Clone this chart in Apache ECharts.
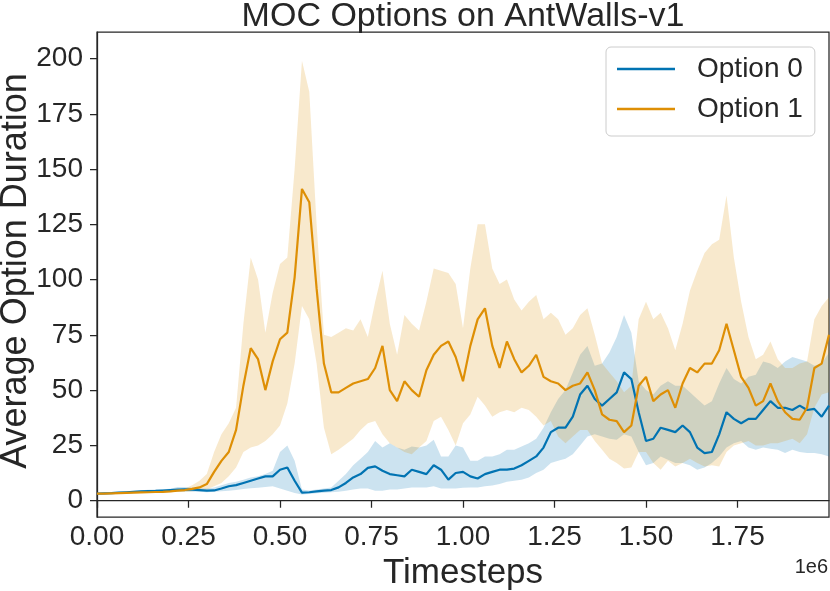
<!DOCTYPE html>
<html>
<head>
<meta charset="utf-8">
<script src="https://cdn.jsdelivr.net/npm/echarts@6/dist/echarts.min.js"></script>
<style>
  html, body { margin: 0; padding: 0; background: #fff; }
  #chart { width: 830px; height: 591px; }
</style>
</head>
<body>
<div id="chart"></div>
<script>
// timesteps, in units of 1e6
var steps = [0.00,0.02,0.04,0.06,0.08,0.10,0.12,0.14,0.16,0.18,
    0.20,0.22,0.24,0.26,0.28,0.30,0.32,0.34,0.36,0.38,
    0.40,0.42,0.44,0.46,0.48,0.50,0.52,0.54,0.56,0.58,
    0.60,0.62,0.64,0.66,0.68,0.70,0.72,0.74,0.76,0.78,
    0.80,0.82,0.84,0.86,0.88,0.90,0.92,0.94,0.96,0.98,
    1.00,1.02,1.04,1.06,1.08,1.10,1.12,1.14,1.16,1.18,
    1.20,1.22,1.24,1.26,1.28,1.30,1.32,1.34,1.36,1.38,
    1.40,1.42,1.44,1.46,1.48,1.50,1.52,1.54,1.56,1.58,
    1.60,1.62,1.64,1.66,1.68,1.70,1.72,1.74,1.76,1.78,
    1.80,1.82,1.84,1.86,1.88,1.90,1.92,1.94,1.96,1.98,
    2.00];

// Option 0 (blue)
var opt0Mean = [3.2,3.3,3.4,3.6,3.8,4.0,4.2,4.3,4.4,4.6,
    4.8,5,5.1,5,4.8,4.5,4.6,5.5,6.5,7,
    8,9,10,11,11,14,15,9,3.6,3.8,
    4.2,4.5,4.8,6,8,10.5,12,14.8,15.5,13.5,
    12,11.5,11,14,13,12,16,14,9.5,12.5,
    13,11,10,12,13,14,14,14.5,16,18,
    20,24,31,33,33,38,48,52,46,43,
    46,49,58,55,40,27,28,33,32,31,
    34,31,24,21.5,22,30,40,37,35,37,
    37,41,45,42,42,41,43,41,41.5,38,
    43];
var opt0Low = [3.0,3.0,3.1,3.2,3.4,3.5,3.7,3.8,3.9,4.0,
    4.2,4.0,4.0,4.0,4.0,3.8,4,4.2,4.5,4.8,
    5.3,5.6,5.8,6.2,6.5,5.5,4.5,3.5,2.8,3,
    3.4,3.6,3.8,4,4.5,5,5.5,5.5,4.5,4.5,
    5,5,5.5,6,6,6,6.5,5.5,5.5,5.5,
    5.8,6,6,6.5,6.8,7.5,8.5,9,9.5,10.5,
    12.5,14,17,18,19,21,25,29,30,29,
    28,27.5,30,29,22,16,17,20,18.5,17,
    17,16,14,15,17,20,24,26,27,24,
    23,24,23.5,23,21.5,23,22,21.5,21.5,21,
    20];
var opt0High = [3.5,3.7,3.9,4.1,4.3,4.5,4.7,4.9,5.0,5.2,
    5.4,6.2,6.2,6,5.6,5.5,6,7,8,8.6,
    9.5,10.5,11,12,13.5,22,25,18,5,4.6,
    5,5.5,6,9,12,16,19,22,27,24,
    26,24,23,24.5,24,25,27.5,20,20,25,
    24,18,18,20,20,21,23,23,24.5,26,
    28,33,40,46,50,58,66,70,61,62,
    67,74,84,76,54,50,48,52,54,52,
    52,49,46,43,45,53,60,55,53,56,
    57,63,62,60,63,65,64,63,61,62,
    67];

// Option 1 (orange)
var opt1Mean = [3.2,3.2,3.3,3.4,3.5,3.6,3.7,3.8,3.9,4.0,
    4.2,4.5,4.8,5.3,6,7.5,13,18,22,32,
    52,69,64,50,63,73,76,101,141,135,
    96,62,49,49,51,53,54,55,60,70,
    50,45,54,50,47,59,66,70,72,65,
    54,70,82,87,70,60,72,64,58,61,
    66,56,54,53,50,52,53,58,50,39,
    36.6,36,31,34,52,56,45,48,50,42,
    53,60,58,62,62,68,80,68,56,51,
    43,45,53,45,40,37,36.6,42,60,62,
    75];
var opt1Low = [3.0,3.0,3.1,3.2,3.3,3.4,3.5,3.6,3.6,3.7,
    3.8,4,4,4.2,4.5,5,6.5,8,11,15,
    22,24,25,27,30,34,44,62,88,82,
    62,33,21,23,25.5,28,32,35,36,30,
    26,24,22,21,24,27,36,38,32,25,
    35,39,47,43,38,40,41,40,42,41,
    38,34,36,29,26,29,32,32,27,23,
    19,17,14.5,15,22,22,17,14,18,15.5,
    17,19,17,15.5,16,15.5,22,25,26,27,
    25,25,26,26,27,28,26,30,42,48,
    49];
var opt1High = [3.4,3.5,3.6,3.7,3.8,3.9,4.0,4.1,4.2,4.4,
    4.6,5,5.5,7,9,12,22,30,35,42,
    80,110,100,76,94,107,110,150,199,185,
    125,75,74,76,78,77,82,74,90,104,
    80,66,84,80,77,90,105,104,103,98,
    78,105,125,125,105,98,100,91,86,90,
    93,82,85,82,75,78,84,87,75,62,
    58,54,49,52,82,90,82,85,78,68,
    80,95,104,112,116,118,138,110,90,74,
    64,66,72,64,60,60,62,63,82,88,
    92];

var xTicks = [0, 0.25, 0.5, 0.75, 1.0, 1.25, 1.5, 1.75];
var yTicks = [0, 25, 50, 75, 100, 125, 150, 175, 200];

var ink = '#262626';
var font = "'Liberation Sans', Arial, sans-serif";

function pairs(ys) {
    return steps.map(function (s, i) { return [s, ys[i]]; });
}

function lineSeries(name, ys, color) {
    return {
        name: name,
        type: 'line',
        data: pairs(ys),
        symbol: 'none',
        lineStyle: { color: color, width: 2.2 },
        itemStyle: { color: color }
    };
}

// shaded band between lo and hi, drawn as one polygon through the axes
function bandSeries(lo, hi, fill) {
    return {
        type: 'custom',
        silent: true,
        data: steps.map(function (s, i) { return [s, lo[i], hi[i]]; }),
        encode: { x: 0, y: [1, 2] },
        renderItem: function (params, api) {
            if (params.dataIndex !== 0) return null;
            var top = [], bottom = [];
            for (var i = 0; i < steps.length; i++) {
                top.push(api.coord([steps[i], hi[i]]));
                bottom.unshift(api.coord([steps[i], lo[i]]));
            }
            return {
                type: 'polygon',
                shape: { points: top.concat(bottom) },
                style: { fill: fill }
            };
        }
    };
}

var series = [
    lineSeries('Option 0', opt0Mean, '#0173b2'),
    bandSeries(opt0Low, opt0High, 'rgba(1,115,178,0.2)'),
    lineSeries('Option 1', opt1Mean, '#de8f05'),
    bandSeries(opt1Low, opt1High, 'rgba(222,143,5,0.2)')
];

var dom = document.getElementById('chart');
var myChart = echarts.init(dom, null, { renderer: 'canvas' });
var option = {
    animation: false,
    backgroundColor: '#fff',
    textStyle: { fontFamily: font, color: ink },
    grid: {
        left: 97, right: 1, top: 32, bottom: 74,
        outerBoundsMode: 'none', containLabel: false,
        show: true, borderColor: ink, borderWidth: 1.25, backgroundColor: 'transparent'
    },
    legend: {
        data: ['Option 0', 'Option 1'],
        orient: 'vertical',
        left: 606, top: 47,
        padding: [8, 12, 13, 11],
        icon: 'rect',
        itemWidth: 58, itemHeight: 2.5, itemGap: 12,
        borderColor: '#cccccc', borderWidth: 1, borderRadius: 5,
        backgroundColor: 'rgba(255,255,255,0.8)',
        textStyle: { fontFamily: font, fontSize: 28, color: ink, lineHeight: 28, padding: [0, 0, 0, 17] }
    },
    xAxis: {
        type: 'value',
        min: 0, max: 2,
        name: 'Timesteps',
        nameLocation: 'middle',
        nameGap: 35,
        nameTextStyle: { fontFamily: font, fontSize: 35, color: ink },
        axisLine: { show: true, lineStyle: { color: ink, width: 1.25 } },
        axisTick: { show: true, length: 7, customValues: xTicks, lineStyle: { color: ink, width: 1.25 } },
        axisLabel: {
            customValues: xTicks, margin: 6,
            fontFamily: font, fontSize: 28, color: ink,
            formatter: function (v) { return v.toFixed(2); }
        },
        splitLine: { show: false }
    },
    yAxis: {
        type: 'value',
        min: -7.4, max: 212,
        axisLine: { show: true, lineStyle: { color: ink, width: 1.25 } },
        axisTick: { show: true, length: 7, customValues: yTicks, lineStyle: { color: ink, width: 1.25 } },
        axisLabel: {
            customValues: yTicks, margin: 14,
            fontFamily: font, fontSize: 28, color: ink
        },
        splitLine: { show: false }
    },
    graphic: [{
        type: 'text',
        x: 463, y: 17,
        style: {
            text: 'MOC Options on AntWalls-v1',
            font: '34px ' + font,
            fill: ink,
            textAlign: 'center',
            textVerticalAlign: 'middle'
        }
    }, {
        type: 'text',
        x: 16, y: 271,
        rotation: Math.PI / 2,
        style: {
            text: 'Average Option Duration',
            font: '36px ' + font,
            fill: ink,
            textAlign: 'center',
            textVerticalAlign: 'middle'
        }
    }, {
        type: 'text',
        x: 828, y: 567,
        style: {
            text: '1e6',
            font: '20px ' + font,
            fill: ink,
            textAlign: 'right',
            textVerticalAlign: 'middle'
        }
    }],
    series: series
};
if (option && typeof option === "object") {
    myChart.setOption(option, true);
}
</script>
</body>
</html>
